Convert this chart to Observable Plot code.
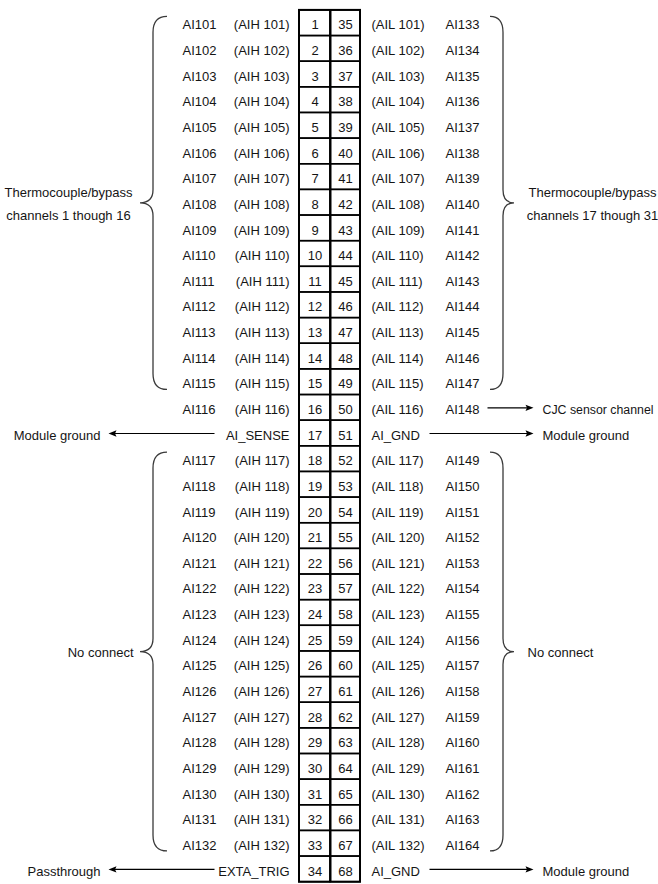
<!DOCTYPE html>
<html>
<head>
<meta charset="utf-8">
<script src="https://cdn.jsdelivr.net/npm/d3@7"></script>
<script src="https://cdn.jsdelivr.net/npm/@observablehq/plot@0.6"></script>
<style>
  html, body { margin: 0; padding: 0; background: #fff; }
  #chart { width: 658px; height: 884px; }
</style>
</head>
<body>
<div id="chart"></div>
<script>
// ---------- data ----------
const pinsLeft = [1,2,3,4,5,6,7,8,9,10,11,12,13,14,15,16,17,18,19,20,21,22,23,24,25,26,27,28,29,30,31,32,33,34];
const pinsRight = [35,36,37,38,39,40,41,42,43,44,45,46,47,48,49,50,51,52,53,54,55,56,57,58,59,60,61,62,63,64,65,66,67,68];
const signalsLeft = ["AI101","AI102","AI103","AI104","AI105","AI106","AI107","AI108","AI109","AI110","AI111","AI112","AI113","AI114","AI115","AI116","",
  "AI117","AI118","AI119","AI120","AI121","AI122","AI123","AI124","AI125","AI126","AI127","AI128","AI129","AI130","AI131","AI132",""];
const aliasesLeft = ["(AIH 101)","(AIH 102)","(AIH 103)","(AIH 104)","(AIH 105)","(AIH 106)","(AIH 107)","(AIH 108)","(AIH 109)","(AIH 110)","(AIH 111)","(AIH 112)","(AIH 113)","(AIH 114)","(AIH 115)","(AIH 116)","AI_SENSE",
  "(AIH 117)","(AIH 118)","(AIH 119)","(AIH 120)","(AIH 121)","(AIH 122)","(AIH 123)","(AIH 124)","(AIH 125)","(AIH 126)","(AIH 127)","(AIH 128)","(AIH 129)","(AIH 130)","(AIH 131)","(AIH 132)","EXTA_TRIG"];
const aliasesRight = ["(AIL 101)","(AIL 102)","(AIL 103)","(AIL 104)","(AIL 105)","(AIL 106)","(AIL 107)","(AIL 108)","(AIL 109)","(AIL 110)","(AIL 111)","(AIL 112)","(AIL 113)","(AIL 114)","(AIL 115)","(AIL 116)","AI_GND",
  "(AIL 117)","(AIL 118)","(AIL 119)","(AIL 120)","(AIL 121)","(AIL 122)","(AIL 123)","(AIL 124)","(AIL 125)","(AIL 126)","(AIL 127)","(AIL 128)","(AIL 129)","(AIL 130)","(AIL 131)","(AIL 132)","AI_GND"];
const signalsRight = ["AI133","AI134","AI135","AI136","AI137","AI138","AI139","AI140","AI141","AI142","AI143","AI144","AI145","AI146","AI147","AI148","",
  "AI149","AI150","AI151","AI152","AI153","AI154","AI155","AI156","AI157","AI158","AI159","AI160","AI161","AI162","AI163","AI164",""];

const arrowRows = [16, 17, 17, 34, 34];
const arrowSides = ["right", "left", "right", "left", "right"];
const arrowLabels = ["CJC sensor channel", "Module ground", "Module ground", "Passthrough", "Module ground"];

const braceFrom = [1, 1, 18, 18];
const braceTo = [15, 15, 33, 33];
const braceSides = ["left", "right", "left", "right"];
const braceLabels = ["Thermocouple/bypass\nchannels 1 though 16", "Thermocouple/bypass\nchannels 17 though 31", "No connect", "No connect"];

// ---------- layout (pixels on the x scale) ----------
const L = {
  signalLeft: 182, aliasLeftEnd: 289,
  cellL1: 299, cellMid: 330, cellR2: 360,
  aliasRight: 371, signalRight: 445,
  arrowLeftFrom: 214, arrowLeftTip: 108, labelLeftEnd: 100,
  arrowRightFromAlias: 429, arrowRightFromSignal: 487, arrowRightTip: 533, labelRightStart: 542,
  braceLeft: {end: 167, spine: 153, tip: 140, labelCenter: 68, labelEdge: 133},
  braceRight: {end: 490, spine: 503, tip: 514, labelCenter: 592, labelEdge: 527}
};

// ---------- tables ----------
const rows = pinsLeft.map((p, i) => ({
  row: i + 1, pinL: p, pinR: pinsRight[i],
  sigL: signalsLeft[i], aliasL: aliasesLeft[i], aliasR: aliasesRight[i], sigR: signalsRight[i]
}));
const arrows = arrowRows.map((r, i) => {
  const side = arrowSides[i];
  const hasSignal = side === "right" ? signalsRight[r - 1] !== "" : signalsLeft[r - 1] !== "";
  return {
    row: r, side, label: arrowLabels[i],
    from: side === "left" ? L.arrowLeftFrom : (hasSignal ? L.arrowRightFromSignal : L.arrowRightFromAlias),
    tip: side === "left" ? L.arrowLeftTip : L.arrowRightTip,
    lx: side === "left" ? L.labelLeftEnd : L.labelRightStart
  };
});
const braces = braceFrom.map((f, i) => ({from: f, to: braceTo[i], side: braceSides[i], label: braceLabels[i]}));

// arrowhead symbols
const headRight = {draw(ctx) { ctx.moveTo(0, 0); ctx.lineTo(-8, -3.2); ctx.lineTo(-6.5, 0); ctx.lineTo(-8, 3.2); ctx.closePath(); }};
const headLeft = {draw(ctx) { ctx.moveTo(0, 0); ctx.lineTo(8, -3.2); ctx.lineTo(6.5, 0); ctx.lineTo(8, 3.2); ctx.closePath(); }};

// brace render mark
function braceMark(index, {x, y}) {
  const g = d3.create("svg:g").attr("fill", "none").attr("stroke", "#3a3a3a").attr("stroke-width", 1.3);
  for (const b of braces) {
    const c = b.side === "left" ? L.braceLeft : L.braceRight;
    const y1 = y(b.from - 0.25), y2 = y(b.to + 0.3), ym = (y1 + y2) / 2;
    const xo = x(c.end), xv = x(c.spine), xt = x(c.tip);
    const r1 = 16, r2 = 13;
    const p = d3.path();
    p.moveTo(xo, y1);
    p.quadraticCurveTo(xv, y1, xv, y1 + r1);
    p.lineTo(xv, ym - r2);
    p.quadraticCurveTo(xv, ym, xt, ym);
    p.quadraticCurveTo(xv, ym, xv, ym + r2);
    p.lineTo(xv, y2 - r1);
    p.quadraticCurveTo(xv, y2, xo, y2);
    g.append("path").attr("d", p.toString());
  }
  return g.node();
}

const braceText = braces.map(b => {
  const c = b.side === "left" ? L.braceLeft : L.braceRight;
  const multi = b.label.includes("\n");
  return {
    ...b, ym: (b.from - 0.25 + b.to + 0.3) / 2,
    lx: multi ? c.labelCenter : c.labelEdge,
    anchor: multi ? "middle" : (b.side === "left" ? "end" : "start")
  };
});

const ink = "#151515";
const chart = Plot.plot({
  width: 658, height: 884,
  marginTop: 0, marginRight: 0, marginBottom: 0, marginLeft: 0,
  x: {domain: [0, 658], range: [0, 658], axis: null},
  y: {domain: [0.5, 34.5], range: [9.9, 881.7], axis: null},
  style: {fontFamily: "'Liberation Sans', Arial, sans-serif", fontSize: "13px", background: "#fff", color: ink},
  marks: [
    // pin cells
    Plot.rect(rows, {x1: L.cellL1, x2: L.cellMid, y1: d => d.row - 0.5, y2: d => d.row + 0.5, stroke: "#000", strokeWidth: 1.5, fill: "none"}),
    Plot.rect(rows, {x1: L.cellMid, x2: L.cellR2, y1: d => d.row - 0.5, y2: d => d.row + 0.5, stroke: "#000", strokeWidth: 1.5, fill: "none"}),
    Plot.rect([0], {x1: L.cellL1, x2: L.cellR2, y1: 0.5, y2: 34.5, stroke: "#000", strokeWidth: 2, fill: "none"}),
    Plot.ruleX([L.cellMid], {y1: 0.5, y2: 34.5, stroke: "#000", strokeWidth: 2}),
    // pin numbers
    Plot.text(rows, {x: (L.cellL1 + L.cellMid) / 2, y: "row", text: "pinL", fill: ink, dy: 2}),
    Plot.text(rows, {x: (L.cellMid + L.cellR2) / 2, y: "row", text: "pinR", fill: ink, dy: 2}),
    // labels
    Plot.text(rows, {x: L.signalLeft, y: "row", text: "sigL", textAnchor: "start", fill: ink, dy: 2}),
    Plot.text(rows, {x: L.aliasLeftEnd, y: "row", text: "aliasL", textAnchor: "end", fill: ink, dy: 2}),
    Plot.text(rows, {x: L.aliasRight, y: "row", text: "aliasR", textAnchor: "start", fill: ink, dy: 2}),
    Plot.text(rows, {x: L.signalRight, y: "row", text: "sigR", textAnchor: "start", fill: ink, dy: 2}),
    // arrows
    Plot.link(arrows, {x1: "from", x2: d => d.side === "left" ? d.tip + 6 : d.tip - 6, y1: "row", y2: "row", stroke: "#000", strokeWidth: 1.1}),
    Plot.dot(arrows.filter(d => d.side === "right"), {x: "tip", y: "row", symbol: headRight, fill: "#000", stroke: "none", r: 4}),
    Plot.dot(arrows.filter(d => d.side === "left"), {x: "tip", y: "row", symbol: headLeft, fill: "#000", stroke: "none", r: 4}),
    Plot.text(arrows.filter(d => d.side === "left"), {x: "lx", y: "row", text: "label", textAnchor: "end", fill: ink, dy: 2}),
    Plot.text(arrows.filter(d => d.side === "right"), {x: "lx", y: "row", text: "label", textAnchor: "start", fill: ink, dy: 2,
      fontSize: d => d.label.length > 14 ? 12 : 13, className: "rlabel"}),
    // braces
    braceMark,
    Plot.text(braceText.filter(d => d.anchor === "middle"), {x: "lx", y: "ym", text: "label", textAnchor: "middle", lineHeight: 1.75, fill: ink, dy: -2}),
    Plot.text(braceText.filter(d => d.anchor === "end"), {x: "lx", y: "ym", text: "label", textAnchor: "end", fill: ink, dy: 1}),
    Plot.text(braceText.filter(d => d.anchor === "start"), {x: "lx", y: "ym", text: "label", textAnchor: "start", fill: ink, dy: 1})
  ]
});
// fit the long right-hand label to the width it has in the reference
d3.select(chart).selectAll(".rlabel text").filter(function () { return this.textContent === "CJC sensor channel"; })
  .attr("textLength", 111).attr("lengthAdjust", "spacingAndGlyphs");
document.getElementById("chart").appendChild(chart);
</script>
</body>
</html>
